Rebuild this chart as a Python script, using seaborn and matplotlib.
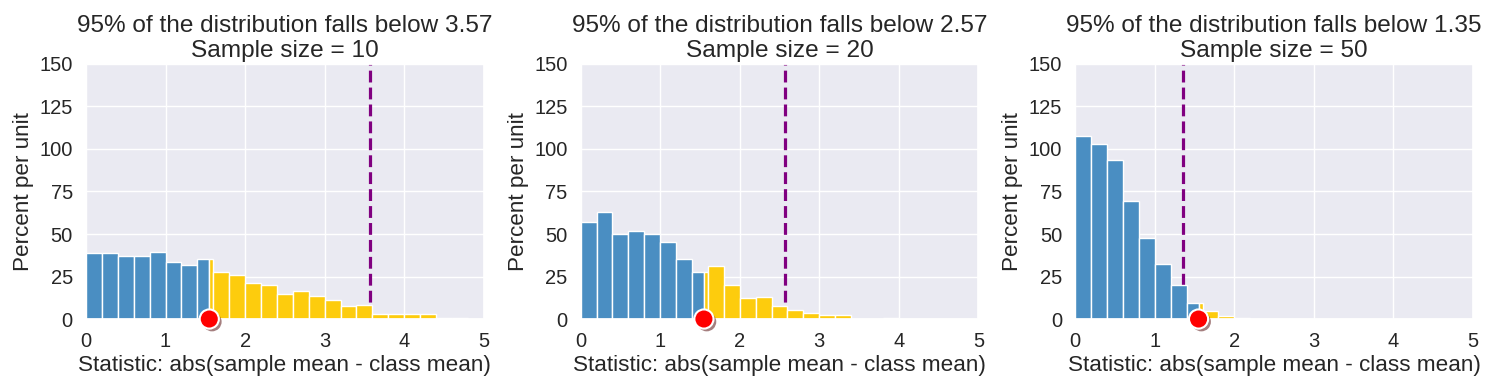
import numpy as np
import pandas as pd
import matplotlib
matplotlib.use("Agg")
import matplotlib.pyplot as plt
import matplotlib.patheffects as pe
import seaborn as sns

# ---- data ----
sample_sizes = [10, 20, 50]
cutoffs = [3.57, 2.57, 1.35]
observed = 1.55
bin_width = 0.2
bin_edges = [round(i * bin_width, 2) for i in range(26)]  # 0 .. 5

heights_n10 = [38.8, 38.8, 37.1, 37.1, 39.4, 33.5, 31.7, 35.3, 27.8, 26.0,
               21.3, 20.1, 14.8, 16.6, 13.6, 11.2, 7.7, 8.3, 2.8, 2.8,
               2.8, 2.8, 0.6, 0.6, 0.2]
heights_n20 = [57.2, 63.1, 50.1, 51.8, 50.1, 45.3, 35.3, 27.8, 31.1, 20.1,
               12.4, 13.0, 7.7, 5.3, 3.5, 2.4, 2.4, 0.2, 0.2, 0.6,
               0.1, 0.0, 0.0, 0.0, 0.0]
heights_n50 = [107.4, 102.7, 93.8, 69.6, 47.7, 32.3, 19.9, 9.5, 4.7, 1.8,
               0.4, 0.2, 0.0, 0.0, 0.0, 0.0, 0.0, 0.0, 0.0, 0.0,
               0.0, 0.0, 0.0, 0.0, 0.0]
all_heights = [heights_n10, heights_n20, heights_n50]

title_fmt = "95% of the distribution falls below {:.2f}\nSample size = {}"
xlabel = "Statistic: abs(sample mean - class mean)"
ylabel = "Percent per unit"
yticks = [0, 25, 50, 75, 100, 125, 150]
xticks = [0, 1, 2, 3, 4, 5]

# ---- style ----
sns.set_theme(style="darkgrid")
plt.rcParams["font.family"] = ["Liberation Sans", "DejaVu Sans"]

blue = "#4A8EC2"
gold = "#FDCC0D"

fig, axes = plt.subplots(1, 3, figsize=(14.98, 3.9), dpi=100)
fig.subplots_adjust(left=0.0574, right=0.9833, top=0.836, bottom=0.182, wspace=0.2437)


def split_bins(edges, heights, split):
    """Return (mid, weight, edges) for the part below and above the split."""
    lo_mid, lo_w, lo_edges = [], [], [edges[0]]
    hi_mid, hi_w, hi_edges = [], [], [split]
    for i, h in enumerate(heights):
        a, b = edges[i], edges[i + 1]
        if b <= split:
            lo_mid.append((a + b) / 2); lo_w.append(h); lo_edges.append(b)
        elif a >= split:
            hi_mid.append((a + b) / 2); hi_w.append(h); hi_edges.append(b)
        else:
            lo_mid.append((a + split) / 2); lo_w.append(h); lo_edges.append(split)
            hi_mid.append((split + b) / 2); hi_w.append(h); hi_edges.append(b)
    return (lo_mid, lo_w, lo_edges), (hi_mid, hi_w, hi_edges)


for ax, n, cut, heights in zip(axes, sample_sizes, cutoffs, all_heights):
    ax.axvline(cut, color="purple", linestyle="--", linewidth=2.3, zorder=1.5)
    (lm, lw, le), (hm, hw, he) = split_bins(bin_edges, heights, observed)
    sns.histplot(x=lm, weights=lw, bins=le, stat="count", ax=ax,
                 color=blue, alpha=1, edgecolor="white", linewidth=1, zorder=2)
    sns.histplot(x=hm, weights=hw, bins=he, stat="count", ax=ax,
                 color=gold, alpha=1, edgecolor="white", linewidth=1, zorder=2)
    ax.scatter([observed], [0], s=190, color="red", edgecolor="white",
               linewidth=1.5, zorder=5, clip_on=False,
               path_effects=[pe.SimplePatchShadow(offset=(2, -2), alpha=0.5),
                             pe.Normal()])
    ax.set_xlim(0, 5)
    ax.set_ylim(0, 150)
    ax.set_xticks(xticks)
    ax.set_yticks(yticks)
    ax.tick_params(axis="both", labelsize=14.5)
    ax.set_xlabel(xlabel, fontsize=16.2, labelpad=3)
    ax.set_ylabel(ylabel, fontsize=16.2)
    ax.set_title(title_fmt.format(cut, n), fontsize=17.6, linespacing=1.15, pad=5)

fig.savefig("out.png", dpi=100)
